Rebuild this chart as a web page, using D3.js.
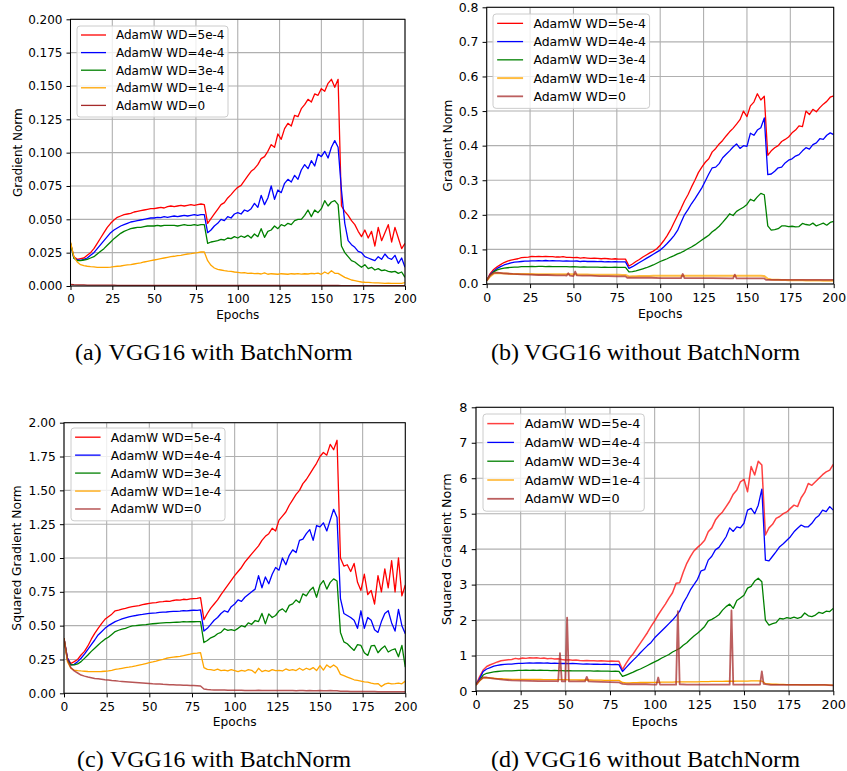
<!DOCTYPE html>
<html><head><meta charset="utf-8">
<script src="https://cdn.jsdelivr.net/npm/d3@7"></script>
<style>body{margin:0;background:#fff}svg{display:block}</style>
</head><body><svg id="c" width="847" height="771"></svg>
<script>
// ---------------- DATA ----------------
const epochs = d3.range(0, 201, 2); // shared x values (every 2 epochs)
const seriesLabels = ["AdamW WD=5e-4","AdamW WD=4e-4","AdamW WD=3e-4","AdamW WD=1e-4","AdamW WD=0"];
const xTicks = [0,25,50,75,100,125,150,175,200];
const xTickLabels = ["0","25","50","75","100","125","150","175","200"];
const yTicksA = [0,0.025,0.05,0.075,0.1,0.125,0.15,0.175,0.2];
const yTickLabelsA = ["0.000","0.025","0.050","0.075","0.100","0.125","0.150","0.175","0.200"];
const yTicksB = [0,0.1,0.2,0.3,0.4,0.5,0.6,0.7,0.8];
const yTickLabelsB = ["0.0","0.1","0.2","0.3","0.4","0.5","0.6","0.7","0.8"];
const yTicksC = [0,0.25,0.5,0.75,1,1.25,1.5,1.75,2];
const yTickLabelsC = ["0.00","0.25","0.50","0.75","1.00","1.25","1.50","1.75","2.00"];
const yTicksD = [0,1,2,3,4,5,6,7,8];
const yTickLabelsD = ["0","1","2","3","4","5","6","7","8"];
const captions = ["(a)|VGG16 with BatchNorm","(b)|VGG16 without BatchNorm","(c)|VGG16 with BatchNorm","(d)|VGG16 without BatchNorm"];
const yLabels = ["Gradient Norm","Gradient Norm","Squared Gradient Norm","Squared Gradient Norm"];

// (a) VGG16 with BatchNorm - gradient norm
const aWd5 = [
0.032,0.022,0.020,0.0205,0.021,0.023,0.025,0.028,0.032,0.036,
0.040,0.044,0.047,0.0495,0.0515,0.0525,0.0535,0.054,0.0545,0.0555,
0.056,0.0565,0.057,0.0575,0.058,0.058,0.0585,0.059,0.0585,0.0595,
0.060,0.0595,0.060,0.0605,0.060,0.0605,0.061,0.0605,0.061,0.0615,
0.061,0.047,0.0505,0.054,0.0575,0.061,0.0625,0.066,0.0685,0.0715,
0.074,0.0755,0.079,0.0825,0.086,0.088,0.091,0.0955,0.097,0.101,
0.106,0.104,0.114,0.110,0.118,0.122,0.120,0.128,0.127,0.133,
0.136,0.140,0.138,0.144,0.143,0.148,0.146,0.152,0.155,0.149,
0.155,0.060,0.056,0.053,0.049,0.046,0.041,0.037,0.042,0.036,
0.041,0.030,0.044,0.034,0.040,0.046,0.033,0.044,0.036,0.028,
0.032];
const aWd4 = [
0.032,0.021,0.0195,0.0193,0.020,0.021,0.023,0.025,0.028,0.031,
0.034,0.037,0.040,0.042,0.0435,0.045,0.046,0.047,0.048,0.0485,
0.049,0.0495,0.050,0.0505,0.051,0.051,0.0515,0.0513,0.052,0.0515,
0.052,0.0525,0.052,0.0525,0.053,0.0525,0.053,0.0535,0.053,0.0535,
0.0535,0.040,0.042,0.045,0.047,0.050,0.049,0.052,0.051,0.054,
0.055,0.054,0.057,0.056,0.058,0.062,0.059,0.068,0.061,0.066,
0.075,0.065,0.072,0.070,0.077,0.080,0.078,0.083,0.080,0.087,
0.091,0.088,0.094,0.090,0.099,0.097,0.101,0.096,0.104,0.109,
0.104,0.072,0.047,0.034,0.031,0.029,0.026,0.025,0.022,0.021,
0.020,0.019,0.022,0.020,0.024,0.021,0.020,0.023,0.017,0.021,
0.014];
const aWd3 = [
0.032,0.021,0.019,0.019,0.0195,0.020,0.021,0.022,0.024,0.026,
0.028,0.0305,0.033,0.0355,0.0375,0.0395,0.041,0.042,0.043,0.0435,
0.044,0.044,0.0445,0.045,0.045,0.045,0.0455,0.045,0.0455,0.0455,
0.0455,0.0455,0.045,0.0455,0.046,0.0455,0.0455,0.046,0.0455,0.046,
0.046,0.032,0.033,0.0335,0.034,0.035,0.0345,0.036,0.0355,0.037,
0.036,0.0375,0.0365,0.038,0.036,0.039,0.037,0.043,0.0365,0.041,
0.042,0.045,0.043,0.046,0.045,0.047,0.046,0.049,0.050,0.050,
0.053,0.057,0.052,0.057,0.055,0.058,0.064,0.060,0.063,0.064,
0.061,0.030,0.025,0.022,0.019,0.018,0.016,0.014,0.016,0.013,
0.014,0.012,0.013,0.0115,0.012,0.011,0.0105,0.011,0.0095,0.0105,
0.0065];
const aWd1 = [
0.033,0.022,0.018,0.016,0.0152,0.0148,0.0145,0.0143,0.014,0.014,
0.014,0.014,0.0142,0.0145,0.0148,0.015,0.0155,0.0158,0.016,0.0165,
0.017,0.0173,0.018,0.0185,0.019,0.0195,0.020,0.0205,0.021,0.0215,
0.022,0.0223,0.0228,0.023,0.0235,0.024,0.0243,0.0247,0.025,0.0255,
0.0255,0.019,0.0155,0.0135,0.0125,0.012,0.0115,0.0112,0.011,0.0105,
0.0102,0.0098,0.010,0.0095,0.0097,0.0093,0.0095,0.009,0.0098,0.0088,
0.0092,0.009,0.0088,0.0092,0.009,0.0088,0.0092,0.009,0.0093,0.0089,
0.0092,0.009,0.0094,0.0092,0.0096,0.0088,0.0105,0.0092,0.0115,0.0095,
0.0095,0.008,0.0065,0.0055,0.0045,0.004,0.0035,0.003,0.0028,0.0027,
0.0025,0.0024,0.0023,0.0022,0.002,0.0021,0.002,0.0019,0.002,0.0019,
0.0025];
const aWd0 = [
0.0012,0.001,0.0009,0.0008,0.0008,0.0007,0.0007,0.0007,0.0006,0.0006,
0.0006,0.0006,0.0006,0.0006,0.0005,0.0005,0.0005,0.0005,0.0005,0.0005,
0.0005,0.0005,0.0005,0.0005,0.0005,0.0005,0.0005,0.0005,0.0005,0.0005,
0.0005,0.0005,0.0005,0.0005,0.0005,0.0005,0.0005,0.0005,0.0005,0.0005,
0.0005,0.0004,0.0004,0.0004,0.0004,0.0004,0.0004,0.0004,0.0004,0.0004,
0.0004,0.0004,0.0004,0.0004,0.0004,0.0004,0.0004,0.0004,0.0004,0.0004,
0.0004,0.0004,0.0004,0.0004,0.0004,0.0004,0.0004,0.0004,0.0004,0.0004,
0.0004,0.0004,0.0004,0.0004,0.0004,0.0004,0.0004,0.0004,0.0004,0.0004,
0.0004,0.0003,0.0003,0.0003,0.0003,0.0003,0.0003,0.0003,0.0003,0.0003,
0.0003,0.0003,0.0003,0.0003,0.0003,0.0003,0.0003,0.0003,0.0003,0.0003,
0.0003];

// (b) VGG16 without BatchNorm - gradient norm
const bWd5 = [
0.010,0.030,0.042,0.050,0.056,0.062,0.066,0.069,0.071,0.073,
0.076,0.077,0.078,0.080,0.079,0.080,0.079,0.080,0.079,0.079,
0.078,0.078,0.079,0.077,0.077,0.076,0.077,0.075,0.076,0.075,
0.074,0.075,0.074,0.073,0.074,0.073,0.072,0.073,0.072,0.072,
0.072,0.052,0.058,0.065,0.071,0.078,0.084,0.090,0.095,0.102,
0.112,0.125,0.140,0.157,0.178,0.198,0.218,0.240,0.258,0.280,
0.300,0.322,0.338,0.352,0.362,0.382,0.392,0.405,0.415,0.428,
0.440,0.450,0.462,0.475,0.500,0.484,0.515,0.526,0.550,0.532,
0.543,0.372,0.385,0.394,0.400,0.412,0.418,0.425,0.437,0.445,
0.457,0.455,0.500,0.490,0.505,0.498,0.510,0.520,0.528,0.540,
0.544];
const bWd4 = [
0.010,0.027,0.037,0.045,0.050,0.055,0.058,0.061,0.063,0.064,
0.065,0.066,0.066,0.067,0.067,0.0675,0.067,0.068,0.067,0.0675,
0.067,0.067,0.066,0.0665,0.066,0.066,0.0665,0.065,0.066,0.065,
0.065,0.065,0.0645,0.065,0.064,0.0645,0.064,0.0645,0.064,0.064,
0.064,0.045,0.050,0.056,0.062,0.068,0.074,0.080,0.086,0.092,
0.098,0.107,0.117,0.128,0.140,0.155,0.178,0.200,0.215,0.232,
0.246,0.262,0.278,0.298,0.318,0.336,0.338,0.348,0.365,0.375,
0.385,0.396,0.405,0.392,0.400,0.398,0.436,0.430,0.445,0.452,
0.480,0.316,0.318,0.326,0.336,0.338,0.350,0.358,0.362,0.370,
0.374,0.385,0.394,0.390,0.403,0.408,0.420,0.418,0.430,0.437,
0.432];
const bWd3 = [
0.010,0.025,0.035,0.041,0.044,0.046,0.047,0.048,0.049,0.049,
0.050,0.050,0.0505,0.051,0.0505,0.051,0.051,0.0505,0.051,0.050,
0.050,0.0505,0.050,0.050,0.0495,0.050,0.0495,0.049,0.0495,0.049,
0.049,0.0485,0.049,0.048,0.0485,0.048,0.048,0.0485,0.048,0.048,
0.048,0.035,0.036,0.038,0.041,0.044,0.047,0.051,0.055,0.060,
0.065,0.069,0.073,0.078,0.082,0.087,0.091,0.096,0.102,0.107,
0.113,0.120,0.127,0.134,0.141,0.151,0.158,0.167,0.178,0.190,
0.203,0.198,0.210,0.216,0.222,0.230,0.245,0.240,0.252,0.262,
0.258,0.168,0.156,0.157,0.160,0.168,0.168,0.166,0.167,0.165,
0.166,0.175,0.172,0.170,0.176,0.168,0.172,0.176,0.170,0.178,
0.181];
const bWd1 = [
0.010,0.022,0.030,0.032,0.031,0.030,0.030,0.029,0.029,0.029,
0.029,0.029,0.029,0.029,0.0285,0.0285,0.0285,0.028,0.028,0.028,
0.028,0.028,0.028,0.028,0.028,0.028,0.0275,0.0275,0.0275,0.0275,
0.027,0.027,0.027,0.027,0.027,0.0265,0.0265,0.0265,0.0265,0.026,
0.026,0.022,0.0225,0.0225,0.023,0.023,0.023,0.023,0.0235,0.0235,
0.0235,0.0235,0.0235,0.024,0.024,0.024,0.024,0.024,0.024,0.024,
0.024,0.024,0.024,0.024,0.024,0.024,0.024,0.024,0.024,0.024,
0.024,0.024,0.024,0.024,0.024,0.024,0.024,0.024,0.024,0.0235,
0.023,0.015,0.013,0.012,0.012,0.0115,0.0115,0.011,0.011,0.011,
0.0105,0.0105,0.010,0.010,0.010,0.010,0.010,0.0095,0.0095,0.0095,
0.0095];
const bWd0Epochs = [0,2,4,6,10,15,20,25,30,35,40,45,46,47,48,50,51,52,55,60,65,70,75,80,81,85,90,95,100,105,110,112,113,114,120,130,140,142,143,144,150,155,160,161,165,170,180,190,200];
const bWd0 = [0.010,0.025,0.032,0.033,0.031, 0.029,0.028,0.027,0.026,0.026, 0.025,0.025,0.024,0.031,0.024, 0.023,0.036,0.025,0.024,0.024,
0.023,0.023,0.022,0.022,0.018, 0.018,0.018,0.018,0.017,0.017, 0.017,0.017,0.029,0.017,0.017, 0.017,0.016,0.016,0.027,0.016,
0.016,0.016,0.016,0.012,0.012, 0.012,0.012,0.012,0.012];

// (c) VGG16 with BatchNorm - squared gradient norm
const cWd5 = [
0.406,0.26,0.22,0.234,0.25,0.283,0.31,0.35,0.40,0.443,
0.48,0.515,0.547,0.566,0.585,0.61,0.615,0.622,0.628,0.635,
0.64,0.645,0.648,0.655,0.66,0.665,0.668,0.67,0.675,0.678,
0.682,0.68,0.686,0.69,0.688,0.695,0.692,0.698,0.70,0.702,
0.707,0.545,0.59,0.63,0.66,0.69,0.73,0.765,0.80,0.835,
0.87,0.90,0.93,0.97,1.00,1.03,1.06,1.09,1.13,1.16,
1.18,1.22,1.20,1.28,1.31,1.34,1.39,1.43,1.47,1.50,
1.55,1.58,1.62,1.66,1.70,1.75,1.78,1.76,1.84,1.80,
1.87,1.00,0.94,0.95,0.90,0.96,0.82,0.76,0.88,0.73,
0.76,0.66,0.87,0.75,0.92,0.78,0.98,0.75,1.00,0.72,
0.80];
const cWd4 = [
0.406,0.26,0.21,0.214,0.234,0.259,0.29,0.325,0.36,0.394,
0.431,0.455,0.48,0.50,0.515,0.53,0.54,0.55,0.558,0.565,
0.571,0.575,0.58,0.583,0.587,0.591,0.593,0.595,0.598,0.60,
0.601,0.603,0.605,0.606,0.608,0.611,0.609,0.612,0.614,0.613,
0.616,0.46,0.48,0.51,0.54,0.56,0.59,0.61,0.60,0.64,
0.66,0.69,0.68,0.71,0.73,0.75,0.77,0.87,0.78,0.86,
0.81,0.88,0.93,0.91,1.00,0.95,1.02,1.06,1.04,1.13,
1.14,1.18,1.21,1.13,1.24,1.23,1.26,1.20,1.28,1.36,
1.30,0.70,0.59,0.575,0.56,0.54,0.48,0.61,0.48,0.56,
0.54,0.47,0.45,0.53,0.59,0.61,0.52,0.46,0.62,0.50,
0.44];
const cWd3 = [
0.406,0.246,0.21,0.21,0.217,0.234,0.258,0.283,0.31,0.333,
0.357,0.38,0.40,0.414,0.435,0.456,0.466,0.474,0.48,0.49,
0.498,0.50,0.503,0.506,0.508,0.512,0.514,0.516,0.518,0.52,
0.522,0.523,0.524,0.525,0.526,0.53,0.528,0.53,0.529,0.53,
0.53,0.375,0.39,0.41,0.42,0.44,0.45,0.477,0.465,0.47,
0.464,0.48,0.50,0.49,0.52,0.51,0.538,0.53,0.59,0.513,
0.587,0.56,0.575,0.61,0.624,0.60,0.65,0.661,0.69,0.67,
0.735,0.72,0.76,0.784,0.71,0.80,0.833,0.77,0.82,0.846,
0.83,0.45,0.38,0.366,0.34,0.317,0.36,0.354,0.30,0.28,
0.35,0.354,0.30,0.329,0.35,0.305,0.32,0.329,0.27,0.354,
0.194];
const cWd1 = [
0.406,0.234,0.185,0.172,0.168,0.165,0.163,0.161,0.16,0.16,
0.16,0.161,0.163,0.165,0.17,0.177,0.18,0.185,0.19,0.193,
0.197,0.202,0.208,0.213,0.22,0.227,0.232,0.238,0.245,0.25,
0.259,0.263,0.267,0.27,0.273,0.278,0.284,0.289,0.295,0.297,
0.30,0.19,0.177,0.175,0.17,0.178,0.168,0.172,0.165,0.175,
0.168,0.16,0.17,0.163,0.175,0.17,0.15,0.185,0.16,0.17,
0.162,0.175,0.168,0.17,0.165,0.18,0.17,0.175,0.168,0.185,
0.17,0.185,0.175,0.19,0.168,0.205,0.172,0.21,0.19,0.21,
0.19,0.14,0.13,0.12,0.11,0.10,0.095,0.09,0.085,0.083,
0.075,0.07,0.072,0.05,0.068,0.075,0.07,0.072,0.075,0.07,
0.09];
const cWd0 = [
0.406,0.25,0.19,0.165,0.15,0.135,0.127,0.12,0.115,0.11,
0.107,0.104,0.10,0.098,0.095,0.093,0.09,0.088,0.086,0.084,
0.082,0.08,0.078,0.076,0.074,0.072,0.07,0.069,0.068,0.066,
0.065,0.064,0.063,0.062,0.061,0.06,0.059,0.058,0.057,0.056,
0.054,0.032,0.028,0.026,0.025,0.025,0.024,0.024,0.023,0.023,
0.022,0.022,0.022,0.021,0.021,0.021,0.02,0.022,0.02,0.021,
0.021,0.02,0.021,0.02,0.02,0.021,0.02,0.02,0.019,0.02,
0.02,0.019,0.02,0.019,0.019,0.02,0.019,0.019,0.02,0.019,
0.019,0.016,0.015,0.015,0.014,0.014,0.014,0.013,0.013,0.013,
0.013,0.013,0.012,0.012,0.012,0.012,0.012,0.012,0.011,0.012,
0.011];

// (d) VGG16 without BatchNorm - squared gradient norm
const dWd5 = [
0.17,0.40,0.59,0.69,0.74,0.78,0.82,0.855,0.87,0.88,
0.89,0.92,0.90,0.93,0.92,0.94,0.93,0.935,0.92,0.93,
0.91,0.92,0.90,0.91,0.89,0.874,0.88,0.87,0.875,0.86,
0.855,0.86,0.85,0.855,0.845,0.85,0.846,0.84,0.845,0.84,
0.837,0.60,0.78,0.93,1.05,1.20,1.35,1.50,1.65,1.82,
1.98,2.15,2.30,2.45,2.62,2.77,3.04,3.05,3.35,3.60,
3.79,3.95,4.05,4.14,4.25,4.49,4.60,4.82,4.95,5.05,
5.20,5.35,5.55,5.67,5.90,5.97,5.62,6.33,6.09,6.48,
6.37,4.40,4.60,4.70,4.87,4.92,5.00,5.05,5.15,5.24,
5.20,5.45,5.60,5.85,5.80,5.90,6.00,6.10,6.18,6.23,
6.39];
const dWd4 = [
0.17,0.35,0.55,0.62,0.66,0.70,0.72,0.74,0.75,0.76,
0.76,0.77,0.78,0.78,0.785,0.79,0.785,0.79,0.79,0.785,
0.79,0.78,0.785,0.78,0.775,0.78,0.77,0.775,0.77,0.765,
0.76,0.765,0.76,0.755,0.76,0.75,0.755,0.75,0.745,0.75,
0.745,0.55,0.66,0.77,0.87,0.97,1.08,1.18,1.28,1.37,
1.50,1.60,1.70,1.80,1.90,2.00,2.12,2.25,2.48,2.65,
2.85,3.00,3.15,3.39,3.42,3.69,3.80,3.98,4.05,4.20,
4.35,4.60,4.50,4.63,4.60,4.73,5.10,5.15,5.00,5.24,
5.69,3.69,3.67,3.80,3.93,4.07,4.15,4.25,4.35,4.49,
4.59,4.68,4.63,4.63,4.73,4.87,4.95,5.10,5.06,5.20,
5.10];
const dWd3 = [
0.17,0.30,0.45,0.50,0.52,0.54,0.55,0.56,0.565,0.57,
0.57,0.575,0.58,0.58,0.585,0.58,0.585,0.58,0.585,0.58,
0.58,0.575,0.58,0.575,0.575,0.57,0.575,0.57,0.57,0.565,
0.57,0.565,0.565,0.56,0.565,0.56,0.56,0.56,0.555,0.56,
0.555,0.41,0.45,0.49,0.53,0.58,0.62,0.67,0.72,0.77,
0.82,0.87,0.93,0.98,1.03,1.10,1.15,1.20,1.29,1.36,
1.46,1.55,1.63,1.72,1.82,1.98,2.02,2.08,2.15,2.28,
2.38,2.45,2.33,2.55,2.62,2.70,2.90,2.95,3.10,3.18,
3.08,2.00,1.86,1.90,1.93,2.05,2.03,2.07,2.05,2.08,
2.05,2.08,2.20,2.12,2.10,2.14,2.22,2.19,2.25,2.24,
2.33];
const dWd1 = [
0.17,0.28,0.37,0.38,0.37,0.36,0.35,0.345,0.34,0.335,
0.33,0.33,0.33,0.33,0.33,0.33,0.325,0.325,0.325,0.32,
0.32,0.32,0.32,0.32,0.32,0.32,0.315,0.315,0.315,0.31,
0.31,0.31,0.31,0.305,0.305,0.305,0.30,0.30,0.30,0.30,
0.30,0.24,0.23,0.23,0.235,0.235,0.24,0.24,0.24,0.245,
0.245,0.245,0.25,0.25,0.25,0.25,0.255,0.255,0.255,0.26,
0.26,0.26,0.26,0.265,0.265,0.265,0.27,0.27,0.27,0.27,
0.275,0.275,0.275,0.28,0.28,0.28,0.28,0.285,0.285,0.285,
0.28,0.21,0.20,0.19,0.19,0.185,0.185,0.18,0.18,0.18,
0.18,0.175,0.175,0.175,0.17,0.17,0.17,0.17,0.17,0.165,
0.165];
const dWd0Epochs = [0,2,4,6,10,15,20,25,30,35,40,45,46,47,48,50,51,52,55,60,61,62,63,66,70,75,80,81,82,85,90,95,100,101,102,103,106,110,112,113,114,118,125,130,135,140,142,143,144,148,152,156,159,160,161,165,170,175,180,185,190,195,200];
const dWd0 = [0.17,0.30,0.38,0.38,0.35, 0.32,0.30,0.29,0.285,0.28, 0.28,0.28,0.275,1.07,0.275, 0.275,2.07,0.275,0.27,0.27,
0.27,0.40,0.27,0.265,0.26, 0.25,0.245,0.22,0.20,0.19, 0.19,0.19,0.18,0.18,0.38, 0.18,0.18,0.18,0.18,2.25,
0.19,0.18,0.18,0.18,0.18, 0.18,0.18,2.27,0.18,0.18, 0.18,0.18,0.18,0.55,0.20, 0.17,0.17,0.17,0.17,0.17,
0.17,0.17,0.16];

const panelSeries = [
  [aWd5,aWd4,aWd3,aWd1,aWd0],
  [bWd5,bWd4,bWd3,bWd1,bWd0],
  [cWd5,cWd4,cWd3,cWd1,cWd0],
  [dWd5,dWd4,dWd3,dWd1,dWd0]
];
const panelEpochs = [
  [epochs,epochs,epochs,epochs,epochs],
  [epochs,epochs,epochs,epochs,bWd0Epochs],
  [epochs,epochs,epochs,epochs,epochs],
  [epochs,epochs,epochs,epochs,dWd0Epochs]
];
const panelYTicks = [yTicksA,yTicksB,yTicksC,yTicksD];
const panelYTickLabels = [yTickLabelsA,yTickLabelsB,yTickLabelsC,yTickLabelsD];
const panelYMax = [0.2,0.8,2,8];

// ---------------- LAYOUT / STYLE ----------------
const colors = ["#ff0000","#0000ff","#008000","#ffa500","#a52a2a"];
const layout = [
  {x0:70.5, x1:405,   y0:19.3,  y1:286,   k:1.0,   ylabX:21.7,  leg:[77,26],   capX:75,  capX2:108.6, capY:359.5, capW:244},
  {x0:486.7,x1:833.7, y0:7.3,   y1:284,   k:1.037, ylabX:451.6, leg:[493,14],  capX:491, capX2:524,   capY:359.5, capW:276},
  {x0:64,   x1:405.3, y0:422.7, y1:693.3, k:1.02,  ylabX:21.4,  leg:[71,428],  capX:77,  capX2:110,   capY:767,   capW:241},
  {x0:476,  x1:833.3, y0:407.3, y1:691,   k:1.068, ylabX:451,   leg:[483,414], capX:491, capX2:524,   capY:767,   capW:276}
];
const lineStyle = [
  [{w:1.3,o:1},{w:1.3,o:1},{w:1.3,o:1},{w:1.3,o:1},{w:1.3,o:1}],
  [{w:1.3,o:1},{w:1.3,o:1},{w:1.3,o:1},{w:2,o:0.75},{w:1.8,o:0.75}],
  [{w:1.3,o:1},{w:1.3,o:1},{w:1.3,o:1},{w:1.3,o:1},{w:1.5,o:0.8}],
  [{w:1.5,o:0.75},{w:1.3,o:1},{w:1.3,o:1},{w:1.3,o:1},{w:1.8,o:0.75}]
];
const FONT = "'DejaVu Sans', sans-serif";

const svg = d3.select("#c");
const defs = svg.append("defs");

layout.forEach((p, i) => {
  const k = p.k, fs = 12 * k;
  const x = d3.scaleLinear().domain([0, 200]).range([p.x0, p.x1]);
  const y = d3.scaleLinear().domain([0, panelYMax[i]]).range([p.y1, p.y0]);
  const g = svg.append("g");

  // grid
  g.append("g").selectAll("line").data(xTicks).join("line")
    .attr("x1", d => x(d)).attr("x2", d => x(d)).attr("y1", p.y0).attr("y2", p.y1)
    .attr("stroke", "#b0b0b0").attr("stroke-width", 1.1);
  g.append("g").selectAll("line").data(panelYTicks[i]).join("line")
    .attr("y1", d => y(d)).attr("y2", d => y(d)).attr("x1", p.x0).attr("x2", p.x1)
    .attr("stroke", "#b0b0b0").attr("stroke-width", 1.1);

  // clip
  defs.append("clipPath").attr("id", "clip" + i).append("rect")
    .attr("x", p.x0).attr("y", p.y0).attr("width", p.x1 - p.x0).attr("height", p.y1 - p.y0);

  // lines
  const lg = g.append("g").attr("clip-path", `url(#clip${i})`);
  panelSeries[i].forEach((vals, j) => {
    const xs = panelEpochs[i][j];
    if (xs.length !== vals.length) {
      svg.append("text").attr("x", 10).attr("y", 400 + 12*j + 50*i).attr("fill","red").text(`len mismatch p${i} s${j}: ${xs.length} vs ${vals.length}`);
    }
    const line = d3.line().x((d, t) => x(xs[t])).y(d => y(d));
    lg.append("path").datum(vals).attr("d", line)
      .attr("fill", "none").attr("stroke", colors[j])
      .attr("stroke-width", lineStyle[i][j].w).attr("stroke-opacity", lineStyle[i][j].o)
      .attr("stroke-linejoin", "round");
  });

  // axes
  const xAxis = d3.axisBottom(x).tickValues(xTicks).tickFormat((d, t) => xTickLabels[t])
    .tickSize(4 * k).tickPadding(4.5 * k).tickSizeOuter(0);
  const gx = g.append("g").attr("transform", `translate(0,${p.y1})`).call(xAxis);
  gx.select(".domain").remove();
  gx.selectAll(".tick line").attr("stroke", "#000").attr("stroke-width", 1);
  gx.selectAll("text").attr("font-size", fs).attr("font-family", FONT).attr("fill", "#000");

  const yAxis = d3.axisLeft(y).tickValues(panelYTicks[i]).tickFormat((d, t) => panelYTickLabels[i][t])
    .tickSize(4 * k).tickPadding(4 * k).tickSizeOuter(0);
  const gy = g.append("g").attr("transform", `translate(${p.x0},0)`).call(yAxis);
  gy.select(".domain").remove();
  gy.selectAll(".tick line").attr("stroke", "#000").attr("stroke-width", 1);
  gy.selectAll("text").attr("font-size", fs).attr("font-family", FONT).attr("fill", "#000");

  // spines
  g.append("rect").attr("x", p.x0).attr("y", p.y0).attr("width", p.x1 - p.x0).attr("height", p.y1 - p.y0)
    .attr("fill", "none").attr("stroke", "#000").attr("stroke-width", 1);

  // axis labels
  g.append("text").attr("x", (p.x0 + p.x1) / 2).attr("y", p.y1 + 32.5 * k)
    .attr("text-anchor", "middle").attr("font-size", fs).attr("font-family", FONT).text("Epochs");
  g.append("text").attr("transform", `translate(${p.ylabX},${(p.y0 + p.y1) / 2}) rotate(-90)`)
    .attr("text-anchor", "middle").attr("font-size", fs).attr("font-family", FONT).text(yLabels[i]);

  // legend
  const [lx, ly] = p.leg;
  const leg = g.append("g").attr("transform", `translate(${lx},${ly})`);
  leg.append("rect").attr("width", 151 * k).attr("height", 91 * k).attr("rx", 3 * k)
    .attr("fill", "#fff").attr("fill-opacity", 0.8).attr("stroke", "#cccccc").attr("stroke-width", 1);
  seriesLabels.forEach((lab, j) => {
    const cy = (9 + 17.6 * j) * k;
    leg.append("line").attr("x1", 4 * k).attr("x2", 29 * k).attr("y1", cy).attr("y2", cy)
      .attr("stroke", colors[j]).attr("stroke-width", lineStyle[i][j].w).attr("stroke-opacity", lineStyle[i][j].o);
    leg.append("text").attr("x", 39 * k).attr("y", cy + 4.4 * k)
      .attr("font-size", fs).attr("font-family", FONT).text(lab);
  });

  // caption
  const [capA, capB] = captions[i].split("|");
  svg.append("text").attr("x", p.capX).attr("y", p.capY)
    .attr("font-family", "'Liberation Serif', 'Times New Roman', serif").attr("font-size", 24).text(capA);
  svg.append("text").attr("x", p.capX2).attr("y", p.capY)
    .attr("font-family", "'Liberation Serif', 'Times New Roman', serif").attr("font-size", 24)
    .attr("textLength", p.capW).attr("lengthAdjust", "spacingAndGlyphs").text(capB);
});
</script></body></html>
